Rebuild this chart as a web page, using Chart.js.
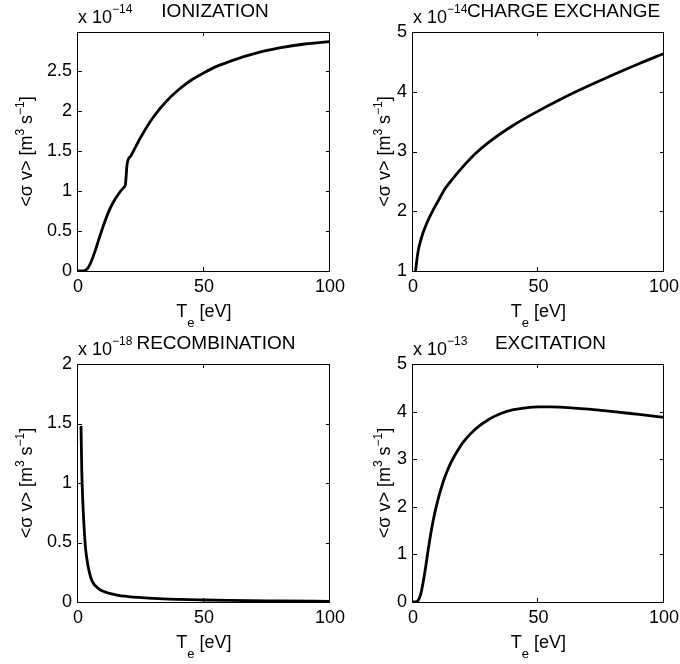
<!DOCTYPE html>
<html>
<head>
<meta charset="utf-8">
<script src="https://cdn.jsdelivr.net/npm/chart.js@4.4.1/dist/chart.umd.min.js"></script>
<style>
    body { margin: 0; background: #fff; }
    #figura { position: relative; width: 680px; height: 664px; }
    canvas { position: absolute; }
</style>
</head>
<body>
<div id="figura">
    <canvas id="ionizacion"></canvas>
    <canvas id="intercambio"></canvas>
    <canvas id="recombinacion"></canvas>
    <canvas id="excitacion"></canvas>
</div>
<script>
// Te [eV] y <sigma v> (en unidades del exponente de cada panel)
const ionTe = [0, 2, 3, 4, 5, 6, 7, 8, 10, 12, 14, 16, 18, 18.8, 19.5, 21, 22, 25, 30, 35, 40, 45, 50, 55, 60, 70, 80, 90, 100];
const ionSv = [0, 0, 0.01, 0.04, 0.1, 0.18, 0.27, 0.37, 0.56, 0.73, 0.86, 0.96, 1.04, 1.08, 1.34, 1.44, 1.5, 1.68, 1.93, 2.12, 2.27, 2.39, 2.48, 2.56, 2.62, 2.72, 2.79, 2.84, 2.87];

const cxTe = [1, 2, 3, 4, 6, 8, 10, 12.5, 15, 20, 25, 30, 40, 50, 60, 70, 80, 90, 100];
const cxSv = [1.0, 1.32, 1.5, 1.64, 1.85, 2.02, 2.17, 2.36, 2.5, 2.75, 2.97, 3.15, 3.44, 3.68, 3.9, 4.1, 4.29, 4.47, 4.64];

const recTe = [1.2, 1.5, 2, 2.5, 3, 4, 5, 6, 8, 10, 15, 20, 30, 40, 50, 60, 80, 100];
const recSv = [1.48, 1.1, 0.8, 0.6, 0.45, 0.3, 0.21, 0.16, 0.115, 0.09, 0.06, 0.045, 0.03, 0.022, 0.017, 0.013, 0.009, 0.006];

const excTe = [0, 1, 2, 3, 4, 5, 6, 8, 10, 12, 14, 16, 18, 20, 25, 30, 35, 40, 45, 50, 55, 60, 70, 80, 90, 100];
const excSv = [0, 0, 0.03, 0.15, 0.4, 0.72, 1.08, 1.7, 2.16, 2.52, 2.8, 3.02, 3.2, 3.36, 3.64, 3.83, 3.96, 4.04, 4.08, 4.1, 4.1, 4.09, 4.05, 4.0, 3.94, 3.88];

// Marcas de los ejes
const teTicks = [0, 50, 100];
const ionTicks = [0, 0.5, 1, 1.5, 2, 2.5];
const cxTicks = [1, 2, 3, 4, 5];
const recTicks = [0, 0.5, 1, 1.5, 2];
const excTicks = [0, 1, 2, 3, 4, 5];

const FUENTE = '"Liberation Sans", Arial, Helvetica, sans-serif';

// Medir y dibujar texto por trozos (para superíndices y subíndices)
function medir(ctx, trozos) {
    return trozos.reduce((w, p) => {
        ctx.font = p.size + 'px ' + FUENTE;
        return w + ctx.measureText(p.t).width;
    }, 0);
}

function escribir(ctx, trozos, x, y) {
    ctx.textAlign = 'left';
    ctx.textBaseline = 'alphabetic';
    trozos.forEach(p => {
        ctx.font = p.size + 'px ' + FUENTE;
        ctx.fillText(p.t, x, y + (p.dy || 0));
        x += ctx.measureText(p.t).width;
    });
}

const etiquetaY = [
    { t: '<σ v> [m', size: 18 },
    { t: '3', size: 12, dy: -8 },
    { t: ' s', size: 18 },
    { t: '\u22121', size: 12, dy: -8 },
    { t: ']', size: 18 },
];
const etiquetaX = [
    { t: 'T', size: 18 },
    { t: 'e', size: 13, dy: 10 },
    { t: ' [eV]', size: 18 },
];

// Caja, marcas hacia adentro, exponente, título y etiquetas de los ejes
const marco = {
    id: 'marco',
    afterDraw(chart, args, opts) {
        const { ctx, chartArea: a } = chart;
        const sx = chart.scales.x, sy = chart.scales.y;
        ctx.save();
        ctx.strokeStyle = '#000';
        ctx.fillStyle = '#000';
        ctx.lineWidth = 1;
        ctx.strokeRect(a.left - 0.5, a.top + 0.5, a.right - a.left, a.bottom - a.top);

        ctx.beginPath();
        sx.ticks.forEach(t => {
            const px = Math.round(sx.getPixelForValue(t.value)) - 0.5;
            ctx.moveTo(px, a.bottom); ctx.lineTo(px, a.bottom - 4);
            ctx.moveTo(px, a.top); ctx.lineTo(px, a.top + 4);
        });
        sy.ticks.forEach(t => {
            const py = Math.round(sy.getPixelForValue(t.value)) + 0.5;
            ctx.moveTo(a.left, py); ctx.lineTo(a.left + 4, py);
            ctx.moveTo(a.right, py); ctx.lineTo(a.right - 4, py);
        });
        ctx.stroke();

        // x 10^exp
        escribir(ctx, [
            { t: 'x 10', size: 18 },
            { t: '\u2212' + opts.exponente, size: 12, dy: -10 },
        ], a.left, a.top - 9);

        // título
        ctx.font = '19px ' + FUENTE;
        ctx.textAlign = 'center';
        ctx.textBaseline = 'alphabetic';
        ctx.fillText(opts.titulo, (a.left + a.right) / 2 + opts.desplTitulo, a.top - 15);

        // etiqueta del eje x
        const wx = medir(ctx, etiquetaX);
        escribir(ctx, etiquetaX, (a.left + a.right) / 2 - wx / 2, a.bottom + 46);

        // etiqueta del eje y (girada)
        const wy = medir(ctx, etiquetaY);
        ctx.translate(a.left - opts.separacionY, (a.top + a.bottom) / 2);
        ctx.rotate(-Math.PI / 2);
        escribir(ctx, etiquetaY, -wy / 2, 0);
        ctx.restore();
    }
};

// Crear un panel con su caja de ejes en coordenadas de la figura
function crearPanel(id, caja, te, sv, yTicks, yMin, yMax, titulo, exponente, desplTitulo, separacionY) {
    const canvas = document.getElementById(id);
    canvas.width = caja.right - caja.left + 98;
    canvas.height = caja.bottom - caja.top + 94;
    canvas.style.left = (caja.left - 78) + 'px';
    canvas.style.top = (caja.top - 32) + 'px';

    const fuenteTicks = { family: FUENTE, size: 18 };

    new Chart(canvas, {
        type: 'line',
        data: {
            datasets: [{
                data: te.map((x, i) => ({ x: x, y: sv[i] })),
                borderColor: '#000',
                borderWidth: 2.8,
                pointRadius: 0,
                cubicInterpolationMode: 'monotone',
                fill: false,
            }],
        },
        options: {
            responsive: false,
            animation: false,
            events: [],
            layout: { padding: { left: 0, top: 32, right: 20, bottom: 0 } },
            plugins: {
                legend: { display: false },
                tooltip: { enabled: false },
                marco: { titulo: titulo, exponente: exponente, desplTitulo: desplTitulo, separacionY: separacionY },
            },
            scales: {
                x: {
                    type: 'linear',
                    min: 0,
                    max: 100,
                    grid: { display: false, drawTicks: false },
                    border: { display: false },
                    afterBuildTicks: s => { s.ticks = teTicks.map(v => ({ value: v })); },
                    afterFit: s => { s.height = 62; },
                    ticks: {
                        font: fuenteTicks, color: '#000', padding: 5,
                        maxRotation: 0, autoSkip: false,
                        callback: v => String(v),
                    },
                },
                y: {
                    type: 'linear',
                    min: yMin,
                    max: yMax,
                    grid: { display: false, drawTicks: false },
                    border: { display: false },
                    afterBuildTicks: s => { s.ticks = yTicks.map(v => ({ value: v })); },
                    afterFit: s => { s.width = 78; },
                    ticks: {
                        font: fuenteTicks, color: '#000', padding: 6,
                        autoSkip: false,
                        callback: v => String(v),
                    },
                },
            },
        },
        plugins: [marco],
    });
}

crearPanel('ionizacion', { left: 78, top: 32, right: 330, bottom: 271 },
    ionTe, ionSv, ionTicks, 0, 2.99, 'IONIZATION', '14', 11, 46);
crearPanel('intercambio', { left: 413, top: 32, right: 664, bottom: 271 },
    cxTe, cxSv, cxTicks, 1, 5, 'CHARGE EXCHANGE', '14', 25, 23);
crearPanel('recombinacion', { left: 78, top: 364, right: 330, bottom: 602 },
    recTe, recSv, recTicks, 0, 2, 'RECOMBINATION', '18', 12, 46);
crearPanel('excitacion', { left: 413, top: 364, right: 664, bottom: 602 },
    excTe, excSv, excTicks, 0, 5, 'EXCITATION', '13', 12, 23);
</script>
</body>
</html>
